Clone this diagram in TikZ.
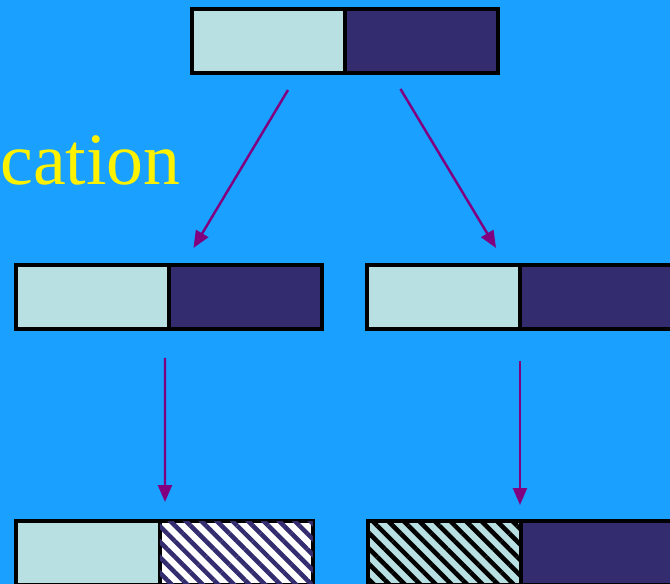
\documentclass[tikz,border=0pt]{standalone}
\usepackage{fontspec}
\setmainfont{Liberation Serif}
\usepackage{xcolor}
\usetikzlibrary{arrows.meta,positioning,calc,patterns.meta}
\definecolor{skyblue}{RGB}{26,160,255}
\definecolor{pale}{RGB}{184,224,226}
\definecolor{navy}{RGB}{51,44,110}
\definecolor{arrowpurple}{RGB}{128,0,128}
\tikzset{
  half/.style={draw=black, line width=2pt, minimum width=3.06cm, minimum height=1.28cm, inner sep=0pt, outer sep=0pt},
  light/.style={half, fill=pale},
  dark/.style={half, fill=navy},
  stripes/.style={pattern={Lines[angle=-45, distance=0.22cm, line width=2.6pt]}},
  arr/.style={draw=arrowpurple, line width=1.4pt, -{Triangle[length=0.34cm, width=0.28cm]}},
}
\begin{document}
\begin{tikzpicture}[x=0.02cm, y=-0.02cm]
                \useasboundingbox (0,0) rectangle (670,584);
                \clip (0,0) rectangle (670,584);
                \fill[skyblue] (0,0) rectangle (670,584);
                \node[anchor=base west, inner sep=0pt, text=yellow, font=\fontsize{42pt}{48pt}\selectfont] (title) at (0,185) {cation};
                % top pair
                \node[light] (tl) at (268.5,41) {};
                \node[dark, right=0pt of tl] (tr) {};
                % middle pairs
                \node[light] (ml) at (92.5,297) {};
                \node[dark, right=0pt of ml] (mlr) {};
                \node[light] (mr) at (443.5,297) {};
                \node[dark, right=0pt of mr] (mrr) {};
                % bottom pairs
                \node[light, minimum width=2.88cm] (bl) at (88,553) {};
                \node[half, fill=white, right=0pt of bl, postaction={stripes, pattern color=navy}] (blr) {};
                \node[half, fill=pale, postaction={stripes, pattern color=black}] (br) at (444.5,553) {};
                \node[dark, right=0pt of br] (brr) {};
                % arrows
                \draw[arr] ($(tl.south)+(19.5,17)$) -- ($(mlr.north)+(-52,-17)$);
                \draw[arr] ($(tr.south)+(-21,16)$) -- ($(mr.north)+(52.5,-17)$);
                \draw[arr] ($(ml.south east)+(-4,29)$) -- ($(bl.north east)+(5,-19)$);
                \draw[arr] ($(mr.south east)+(0,32)$) -- ($(br.north east)+(-1,-16)$);
            \end{tikzpicture}
\end{document}
